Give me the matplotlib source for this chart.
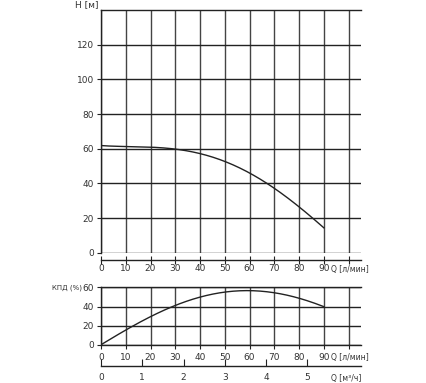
import matplotlib
matplotlib.use("Agg")
import matplotlib.pyplot as plt
import numpy as np
from numpy.polynomial import polynomial as P

# pump curve readings
q_lmin = [0, 10, 20, 30, 40, 50, 60, 70, 80, 90]
head_m = [61.8, 61.3, 60.8, 59.8, 57.3, 52.5, 45.8, 37.5, 26.2, 14.4]
eff_pct = [0, 16.3, 29.3, 40.4, 50.0, 55.2, 57.0, 54.0, 48.4, 40.0]

h_ticks = [0, 20, 40, 60, 80, 100, 120]
eff_ticks = [0, 20, 40, 60]
q_grid = [0, 10, 20, 30, 40, 50, 60, 70, 80, 90, 100]
q_labels = ["0", "10", "20", "30", "40", "50", "60", "70", "80", "90", ""]
m3h_ticks = [0, 1, 2, 3, 4, 5]

W, H = 426, 383
LC = "#222222"
TC = "#333333"
FS = 6.5

fig = plt.figure(figsize=(W / 100, H / 100), dpi=100)


def rect(l, t, r, b):
    return [l / W, 1 - b / H, (r - l) / W, (b - t) / H]


def smooth(x, y):
    xs = np.linspace(x[0], x[-1], 200)
    c = P.polyfit(x, y, 4)
    return xs, P.polyval(xs, c)


def style(ax, ylim, yticks):
    ax.set_xlim(0, 105)
    ax.set_ylim(*ylim)
    ax.spines["right"].set_visible(False)
    for s in ("left", "top", "bottom"):
        ax.spines[s].set_color(LC)
        ax.spines[s].set_linewidth(1.0)
    ax.set_xticks(q_grid)
    ax.set_xticklabels(q_labels)
    ax.set_yticks(yticks)
    ax.grid(True, axis="x", color="#444444", lw=1.0)
    ax.grid(True, axis="y", color=LC, lw=1.0)
    ax.tick_params(colors=LC, labelcolor=TC, labelsize=FS,
                   length=3, width=0.8, pad=2)
    ax.set_axisbelow(True)


# head curve
ax = fig.add_axes(rect(101, 10, 361, 252.7))
style(ax, (0, 140), h_ticks)
ax.spines["bottom"].set_position(("outward", 5))
ax.tick_params(axis="x", direction="inout", length=6, pad=0)
xs, ys = smooth(q_lmin, head_m)
ax.plot(xs, ys, color=LC, lw=1.0)
ax.text(-0.01, 1.005, "H [м]", transform=ax.transAxes, ha="right", va="bottom",
        fontsize=FS, color=TC)
ax.text(93, -0.07, "Q [л/мин]", transform=ax.get_xaxis_transform(),
        ha="left", va="center", fontsize=5.5, color=TC)

# efficiency curve
ax2 = fig.add_axes(rect(101, 287.3, 361, 345))
style(ax2, (0, 60), eff_ticks)
ax2.tick_params(axis="x", pad=3)
xs, ys = smooth(q_lmin, eff_pct)
ax2.plot(xs, ys, color=LC, lw=1.0)
ax2.text(-0.075, 1.0, "КПД (%)", transform=ax2.transAxes, ha="right", va="center",
         fontsize=5, color=TC)
ax2.text(93, -0.21, "Q [л/мин]", transform=ax2.get_xaxis_transform(),
         ha="left", va="center", fontsize=5.5, color=TC)

# second flow scale in m3/h
sec = ax2.secondary_xaxis(-21.3 / 57.7, functions=(lambda q: q * 0.06, lambda m: m / 0.06))
sec.set_xticks(m3h_ticks)
sec.spines["bottom"].set_color(LC)
sec.spines["bottom"].set_linewidth(1.0)
sec.tick_params(direction="in", length=5, width=0.8, colors=LC, labelcolor=TC,
                labelsize=FS, pad=5)
ax2.text(93, -0.58, "Q [м³/ч]", transform=ax2.get_xaxis_transform(),
         ha="left", va="center", fontsize=5.5, color=TC)

fig.savefig("out.png", dpi=100)
